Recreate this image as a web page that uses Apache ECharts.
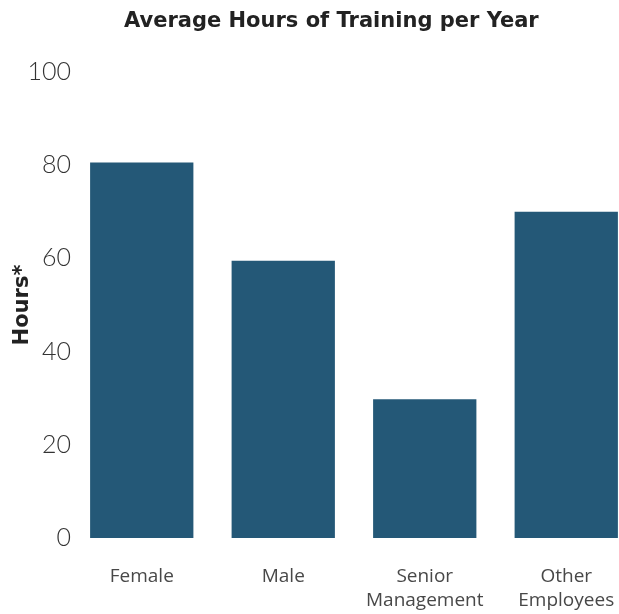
<!DOCTYPE html>
<html>
<head>
<meta charset="utf-8">
<script src="https://cdn.jsdelivr.net/npm/echarts@6/dist/echarts.min.js"></script>
<style>
  html, body { margin: 0; padding: 0; background: #fff; }
  #chart { width: 619px; height: 614px; }
</style>
</head>
<body>
<div id="chart"></div>
<script>
// data
const categories = ['Female', 'Male', 'Senior\nManagement', 'Other\nEmployees']
const hours = [80.6, 59.5, 29.8, 70]
const yTicks = [0, 20, 40, 60, 80, 100]

const chart = echarts.init(document.getElementById('chart'))

chart.setOption({
  animation: false,
  title: {
    text: 'Average Hours of Training per Year',
    left: 119,
    top: 6,
    textStyle: {
      fontFamily: 'DejaVu Sans',
      fontWeight: 'bold',
      fontSize: 21,
      color: '#222'
    }
  },
  grid: {
    left: 71,
    top: 72,
    width: 566,
    bottom: 76,
    outerBoundsMode: 'none'
  },
  xAxis: {
    type: 'category',
    data: categories,
    axisLine: { show: false },
    axisTick: { show: false },
    axisLabel: {
      interval: 0,
      hideOverlap: false,
      margin: 27,
      fontFamily: 'Open Sans',
      fontSize: 19,
      lineHeight: 24,
      color: '#484848'
    }
  },
  yAxis: {
    type: 'value',
    min: yTicks[0],
    max: yTicks[yTicks.length - 1],
    interval: 20,
    name: 'Hours*',
    nameLocation: 'middle',
    nameGap: 38,
    nameRotate: 90,
    nameMoveOverlap: false,
    nameTextStyle: {
      fontFamily: 'DejaVu Sans',
      fontWeight: 'bold',
      fontSize: 21,
      color: '#222'
    },
    splitLine: { show: false },
    axisLine: { show: false },
    axisTick: { show: false },
    axisLabel: {
      margin: 0,
      fontFamily: 'Lato',
      fontWeight: 300,
      fontSize: 25,
      color: '#333'
    }
  },
  series: [
    {
      type: 'bar',
      data: hours,
      barCategoryGap: '27%',
      itemStyle: { color: '#245877' }
    }
  ]
})
</script>
</body>
</html>
